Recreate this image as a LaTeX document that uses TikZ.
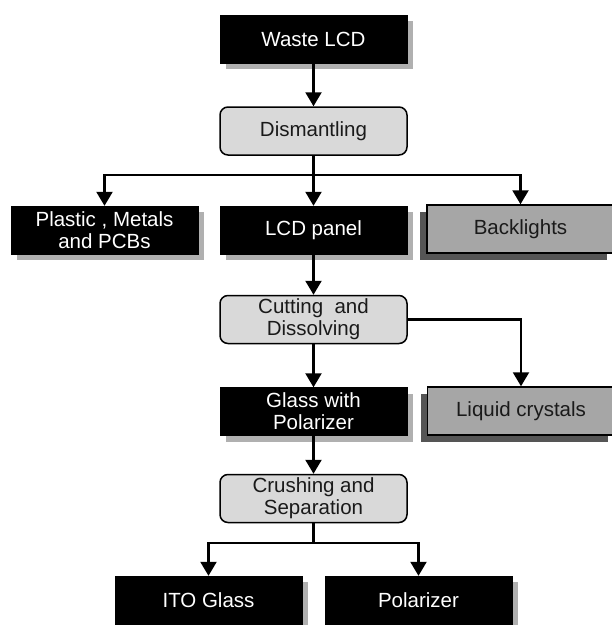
\documentclass[tikz,border=0pt]{standalone}
\usepackage{fontspec}
\setmainfont{Liberation Sans}
\usetikzlibrary{arrows.meta,shadows}
\definecolor{procfill}{HTML}{D9D9D9}
\definecolor{grayfill}{HTML}{A6A6A6}
\definecolor{lightshadow}{HTML}{B0B0B0}
\definecolor{darkshadow}{HTML}{555555}
\definecolor{txtdark}{HTML}{1A1A1A}
\tikzset{
  box/.style={minimum width=187pt,minimum height=48pt,inner sep=0pt,align=center,
    font=\fontsize{20.5}{22}\selectfont},
  blackbox/.style={box,fill=black,draw=black,text=white,
    drop shadow={shadow xshift=6pt,shadow yshift=-6pt,fill=lightshadow,opacity=1}},
  procbox/.style={box,fill=procfill,draw=black,line width=1.5pt,rounded corners=8pt,text=txtdark},
  graybox/.style={box,fill=grayfill,draw=black,line width=1.5pt,text=txtdark,
    drop shadow={shadow xshift=-7pt,shadow yshift=-7pt,fill=darkshadow,opacity=1}},
  conn/.style={line width=2.2pt,draw=black},
  arr/.style={conn,-{Triangle[length=14pt,width=16pt]}}
}
\begin{document}
\begin{tikzpicture}[x=1pt,y=-1pt]
\useasboundingbox[fill=white] (0,0) rectangle (612,625);
\node[blackbox] (waste) at (313.5,39) {Waste LCD};
\node[procbox] (dism) at (313.5,131) {Dismantling};
\node[blackbox] (plastic) at (104.5,230) {Plastic , Metals\\and PCBs};
\node[blackbox] (lcd) at (313.5,230) {LCD panel};
\node[graybox] (back) at (520.5,229) {Backlights};
\node[procbox] (cut) at (313.5,319.5) {Cutting~ and\\Dissolving};
\node[blackbox] (glass) at (313.5,411.5) {Glass with\\Polarizer};
\node[graybox] (liq) at (521,411) {Liquid crystals};
\node[procbox] (crush) at (313.5,498.5) {Crushing and\\Separation};
\node[blackbox] (ito) at (208.5,600) {ITO Glass};
\node[blackbox] (pol) at (418.5,600) {Polarizer};
\coordinate (b1) at (313.5,175);
\coordinate (b2) at (313.5,543);
\draw[arr] (waste) -- (dism);
\draw[conn] (dism) -- (b1);
\draw[arr] (b1) -| (plastic);
\draw[arr] (b1) -- (lcd);
\draw[arr] (b1) -| (back);
\draw[arr] (lcd) -- (cut);
\draw[arr] (cut.east) -| (liq);
\draw[arr] (cut) -- (glass);
\draw[arr] (glass) -- (crush);
\draw[conn] (crush) -- (b2);
\draw[arr] (b2) -| (ito);
\draw[arr] (b2) -| (pol);
\end{tikzpicture}
\end{document}
